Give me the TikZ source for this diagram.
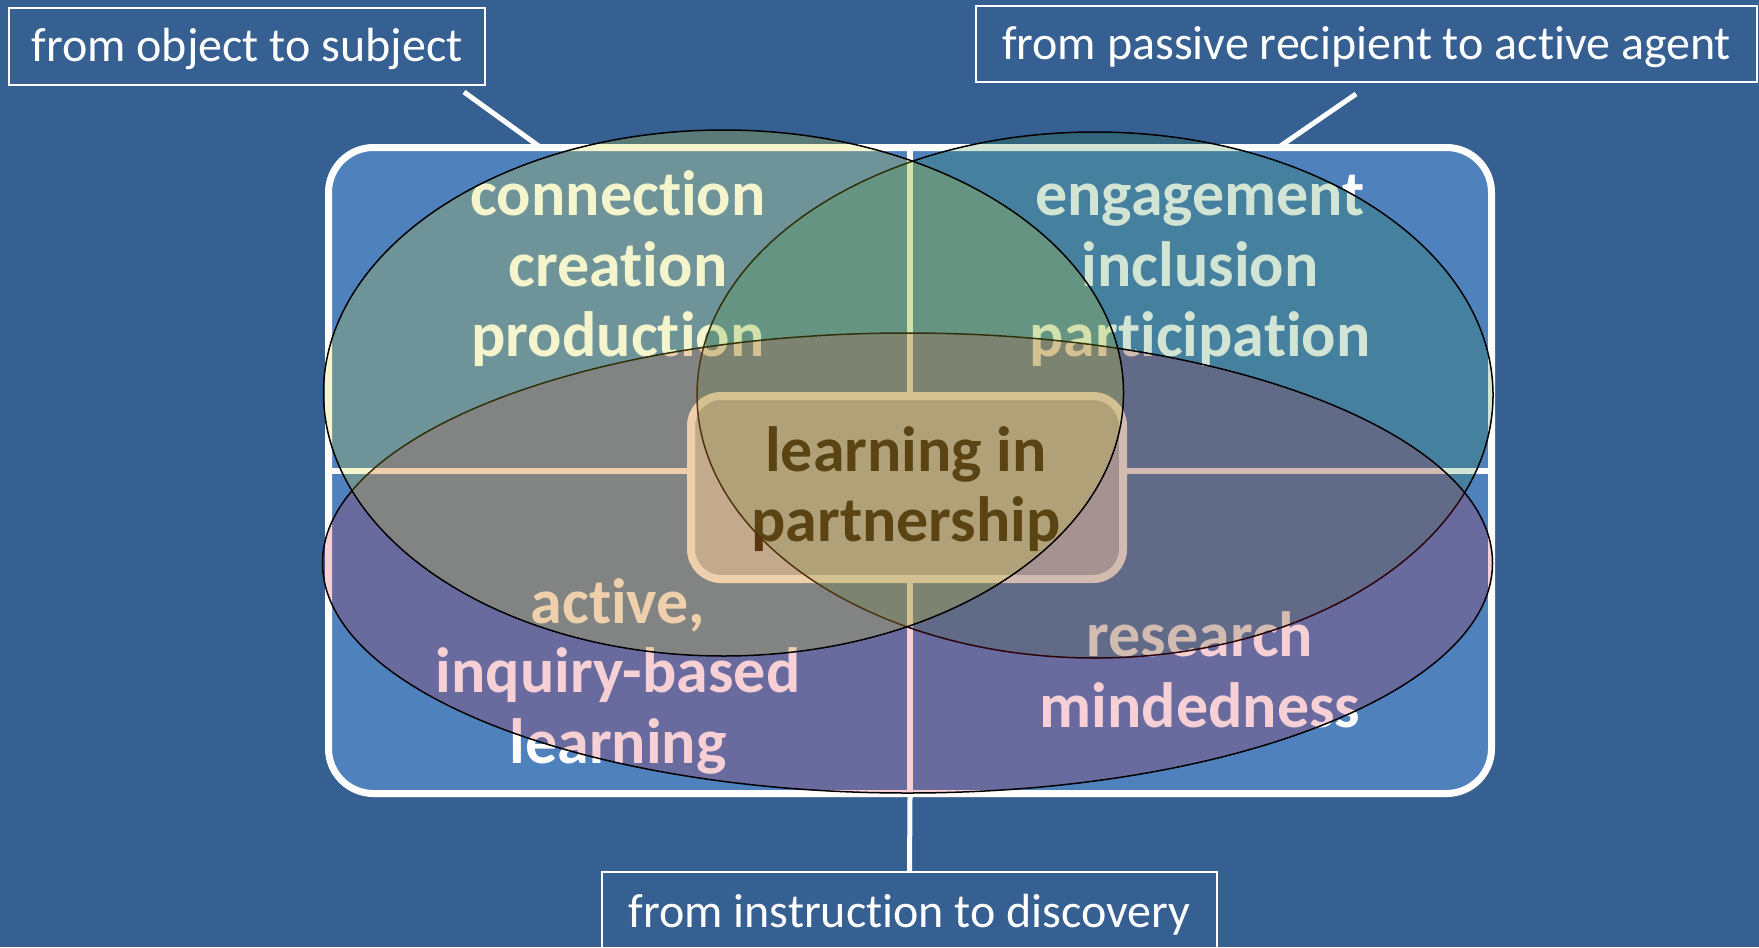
\documentclass[tikz,border=0pt]{standalone}
\usepackage{fontspec}
\setmainfont{Carlito}[Ligatures=NoCommon]
\usetikzlibrary{shadows}
\definecolor{bgblue}{RGB}{54,96,146}
\definecolor{quadblue}{RGB}{79,129,189}
\definecolor{hubfill}{RGB}{185,192,205}
\definecolor{hubink}{RGB}{10,0,0}
\definecolor{vennyellow}{RGB}{215,215,40}
\definecolor{vennred}{RGB}{210,20,40}
\definecolor{venngreen}{RGB}{30,125,40}

\begin{document}
\begin{tikzpicture}[x=0.5pt, y=-0.5pt,
  quadtext/.style={anchor=base, inner sep=0pt, text=white, font=\bfseries\fontsize{32}{35}\selectfont},
  hubtext/.style={quadtext, text=hubink},
  callout/.style={draw=white, line width=1pt, inner sep=0pt, text=white, font=\fontsize{24}{29}\selectfont},
  link/.style={draw=white, line width=2.5pt},
  softshadow/.style={drop shadow={opacity=0.3, shadow xshift=1pt, shadow yshift=-2pt}},
  venn/.style={draw=black, line width=0.75pt}]
  % background and page size
    \fill[bgblue, use as bounding box] (0,0) rectangle (1759,947);

  % matrix of four quadrants
    \node[draw=white, line width=3.5pt, fill=quadblue, rounded corners=22.5pt, softshadow,
          minimum width=581.5pt, minimum height=323pt] (grid) at (910,470.5) {};
    \draw[white, line width=3pt] (grid.north) -- (grid.south);
    \draw[white, line width=3pt] (grid.west) -- (grid.east);

    \node[quadtext] (conn) at (618,215) {connection};
    \node[quadtext] (crea) at (618,286) {creation};
    \node[quadtext] (prod) at (618,356) {production};
    \node[quadtext] (enga) at (1200,215) {engagement};
    \node[quadtext] (incl) at (1200,286) {inclusion};
    \node[quadtext] (part) at (1200,356) {participation};
    \node[quadtext] (acti) at (618,623) {active,};
    \node[quadtext] (inqu) at (618,692) {inquiry-based};
    \node[quadtext] (lear) at (618,763) {learning};
    \node[quadtext] (rese) at (1200,656) {research};
    \node[quadtext] (mind) at (1200,727) {mindedness};

  % centre box
    \node[draw=white, line width=4pt, fill=hubfill, rounded corners=15pt, softshadow,
          minimum width=216pt, minimum height=91.5pt] (hub) at (907,487.5) {};
    \node[hubtext] (hub1) at (906,471) {learning in};
    \node[hubtext] (hub2) at (906,541) {partnership};

  % three overlapping ellipses
    \draw[venn, fill=venngreen, fill opacity=0.2] (1095,395) ellipse [x radius=398, y radius=263];
    \draw[venn, fill=vennred, fill opacity=0.2] (907.5,563) ellipse [x radius=585, y radius=230];
    \draw[venn, fill=vennyellow, fill opacity=0.23] (723.5,393) ellipse [x radius=400, y radius=263];

  % callouts
    \node[callout, minimum width=238pt, text height=27pt, text depth=11.5pt] (obj) at (247,46.5) {from object to subject};
    \node[callout, minimum width=390.5pt, text height=26.75pt, text depth=11.25pt] (agent) at (1366.5,44) {from passive recipient to active agent};
    \node[callout, minimum width=307.5pt, text height=27.5pt, text depth=14pt] (disc) at (909.5,913.5) {from instruction to discovery};

    \coordinate (objend) at (540,147);
    \coordinate (agentend) at (1279,147);
    \draw[link] ([shift={(-22,6)}]obj.south east) -- (objend);
    \draw[link] ([shift={(-10.5,11)}]agent.south) -- (agentend);
    \draw[link] (grid.south) -- (disc.north);
\end{tikzpicture}
\end{document}
